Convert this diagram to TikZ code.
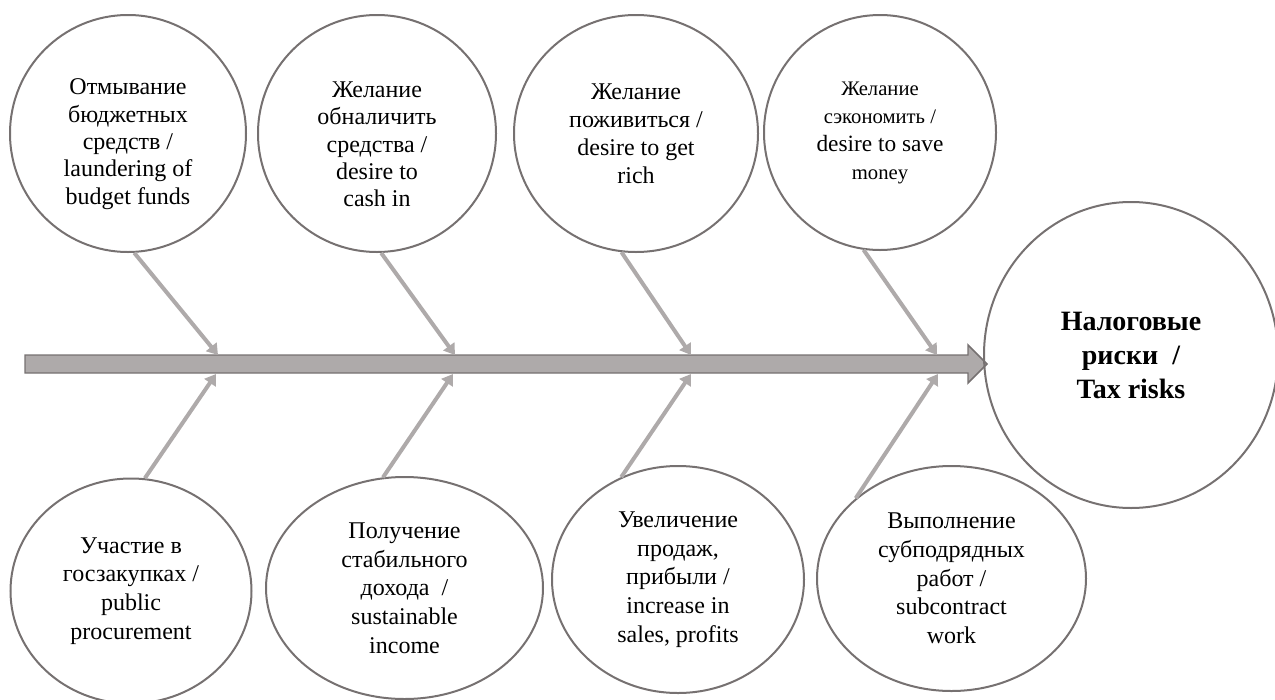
\documentclass[tikz,border=0pt]{standalone}
\usepackage{fontspec}
\setmainfont{Liberation Serif}
\usetikzlibrary{shapes.geometric,arrows.meta}
\definecolor{circ}{HTML}{767171}
\definecolor{bonec}{HTML}{AEAAAA}
\newcommand{\lowerby}{\rule{0pt}{28pt}}
\begin{document}
\begin{tikzpicture}[x=0.75pt,y=-0.75pt,
  cause/.style={ellipse, draw=circ, line width=1.5pt, inner sep=0pt, align=center,
    font=\fontsize{18}{20.5}\selectfont},
  sz/.style n args={2}{minimum width=#1*0.75pt, minimum height=#2*0.75pt},
  bone/.style={draw=bonec, line width=3pt, -{Triangle[length=8pt,width=10pt]}},
  spine/.style={draw=circ, fill=bonec, line width=1.1pt}]
\useasboundingbox (0,0) rectangle (1275,700);

% spine
\draw[spine] (25,355) -- (968,355) -- (968,345) -- (987,364) -- (968,383) -- (968,373) -- (25,373) -- cycle;

% top causes
\node[cause, sz={236}{237}] (t1) at (128,133.5) {\lowerby Отмывание\\бюджетных\\средств /\\laundering of\\budget funds};
\node[cause, sz={238}{237}] (t2) at (377,133.5) {\lowerby Желание\\обналичить\\средства /\\desire to\\cash in};
\node[cause, sz={244}{237}, font=\fontsize{18}{21}\selectfont] (t3) at (636,133.5) {Желание\\поживиться /\\desire to get\\rich};
\node[cause, sz={232}{235}, font=\fontsize{15.5}{21}\selectfont] (t4) at (880,132.5) {Желание\\сэкономить /\\{\fontsize{17.5}{21}\selectfont desire to save}\\money};

% bottom causes
\node[cause, sz={241}{225}, font=\fontsize{18}{21.5}\selectfont] (b1) at (131,591) {Участие в\\госзакупках /\\public\\procurement};
\node[cause, sz={277}{222}, font=\fontsize{18}{21.5}\selectfont] (b2) at (404.5,588) {Получение\\стабильного\\дохода \ /\\sustainable\\income};
\node[cause, sz={252}{227}, font=\fontsize{18}{21.5}\selectfont] (b3) at (678,579.5) {Увеличение\\продаж,\\прибыли /\\increase in\\sales, profits};
\node[cause, sz={269}{225}, font=\fontsize{18}{21.5}\selectfont] (b4) at (951.5,578.5) {Выполнение\\субподрядных\\работ /\\subcontract\\work};

% effect
\node[cause, sz={294}{306}, font=\bfseries\fontsize{21}{25.5}\selectfont] (risk) at (1131,355) {Налоговые\\риски \ /\\Tax risks};

% tips on the spine
\coordinate (u1) at (218,355);
\coordinate (u2) at (455,355);
\coordinate (u3) at (691,355);
\coordinate (u4) at (937,355);
\coordinate (d1) at (216,374);
\coordinate (d2) at (453,374);
\coordinate (d3) at (691,374);
\coordinate (d4) at (938,374);

% connectors
\draw[bone] (t1.-87) -- (u1);
\draw[bone] (t2.-88) -- (u2);
\draw[bone] (t3.-97) -- (u3);
\draw[bone] (t4.-98) -- (u4);
\draw[bone] (b1.83) -- (d1);
\draw[bone] (b2.101) -- (d2);
\draw[bone] (b3.119) -- (d3);
\draw[bone] (b4.140) -- (d4);
\end{tikzpicture}
\end{document}
